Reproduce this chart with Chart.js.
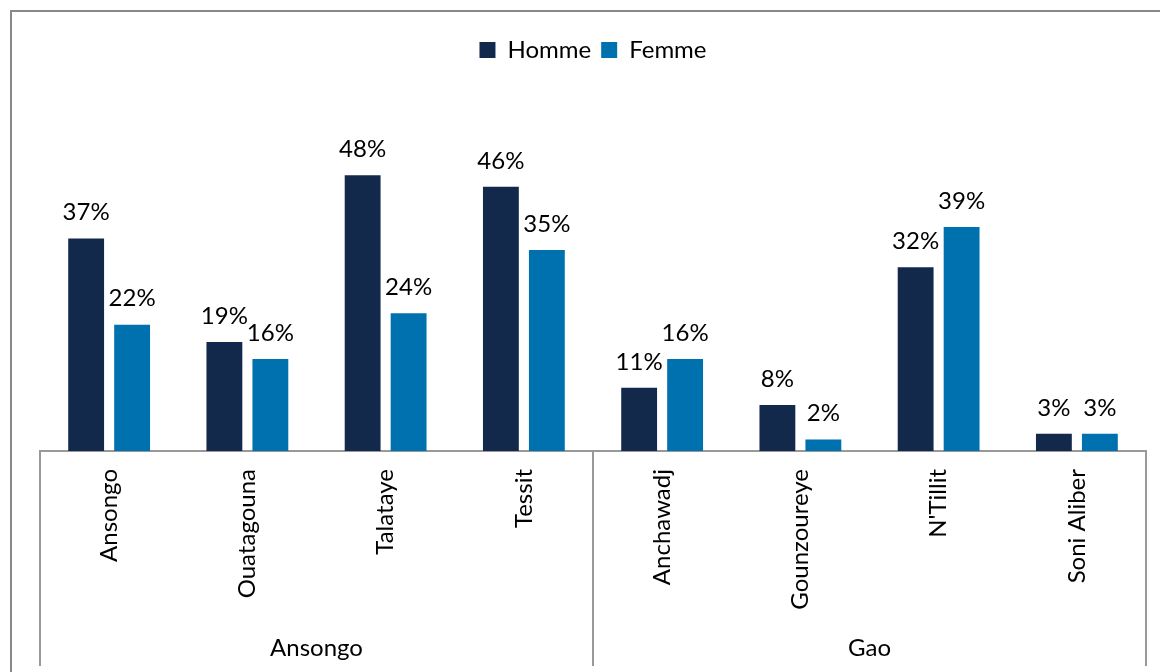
<!DOCTYPE html>
<html>
<head>
<meta charset="utf-8">
<script src="https://cdn.jsdelivr.net/npm/chart.js@4.4.0/dist/chart.umd.min.js"></script>
<style>
  html, body { margin: 0; padding: 0; background: #fff; }
  #wrap { width: 1160px; height: 672px; }
</style>
</head>
<body>
<div id="wrap"><canvas id="myChart" width="1160" height="672"></canvas></div>
<script>
const communes = ['Ansongo', 'Ouatagouna', 'Talataye', 'Tessit', 'Anchawadj', 'Gounzoureye', "N'Tillit", 'Soni Aliber'];
const cercles = ['Ansongo', 'Gao'];
const cercleSizes = [4, 4];
const homme = [37, 19, 48, 46, 11, 8, 32, 3];
const femme = [22, 16, 24, 35, 16, 2, 39, 3];

const FONT = 'Lato, "Open Sans", sans-serif';

// value labels above every bar
const valueLabels = {
  id: 'valueLabels',
  afterDatasetsDraw(chart) {
    const ctx = chart.ctx;
    ctx.save();
    ctx.font = '24px ' + FONT;
    ctx.fillStyle = '#000';
    ctx.textAlign = 'center';
    ctx.textBaseline = 'bottom';
    chart.data.datasets.forEach((ds, i) => {
      chart.getDatasetMeta(i).data.forEach((bar, j) => {
        ctx.fillText(ds.data[j] + '%', bar.x, bar.y - 14);
      });
    });
    ctx.restore();
  }
};

// outer frame + second level of the category axis
const frameAndGroups = {
  id: 'frameAndGroups',
  afterDraw(chart) {
    const ctx = chart.ctx;
    const area = chart.chartArea;
    const x = chart.scales.x;
    ctx.save();
    ctx.strokeStyle = '#888';
    ctx.lineWidth = 2;
    ctx.beginPath();
    ctx.moveTo(11, 672);
    ctx.lineTo(11, 11);
    ctx.lineTo(1160, 11);
    ctx.stroke();

    ctx.strokeStyle = '#999';
    ctx.lineWidth = 2;
    const bounds = [area.left];
    let idx = 0;
    cercleSizes.forEach((n, k) => {
      idx += n;
      if (k < cercleSizes.length - 1) {
        bounds.push((x.getPixelForValue(idx - 1) + x.getPixelForValue(idx)) / 2);
      }
    });
    bounds.push(area.right);
    bounds.forEach(b => {
      ctx.beginPath();
      ctx.moveTo(b, area.bottom);
      ctx.lineTo(b, 666);
      ctx.stroke();
    });
    ctx.font = '24px ' + FONT;
    ctx.fillStyle = '#000';
    ctx.textAlign = 'center';
    ctx.textBaseline = 'middle';
    cercles.forEach((c, k) => {
      ctx.fillText(c, (bounds[k] + bounds[k + 1]) / 2, 648);
    });
    ctx.restore();
  }
};

const config = {
  type: 'bar',
  data: {
    labels: communes,
    datasets: [
      { label: 'Homme', data: homme, backgroundColor: '#13294B' },
      { label: 'Femme', data: femme, backgroundColor: '#0071AF' }
    ]
  },
  options: {
    responsive: false,
    animation: false,
    categoryPercentage: 0.665,
    barPercentage: 0.78,
    layout: { padding: { left: 40, right: 14, top: 28, bottom: 0 } },
    plugins: {
      legend: {
        position: 'top',
        labels: {
          font: { size: 24, family: FONT },
          color: '#000',
          boxWidth: 16,
          boxHeight: 16,
          padding: 10
        }
      },
      tooltip: { enabled: false }
    },
    scales: {
      x: {
        grid: { display: false, drawTicks: false },
        border: { display: true, color: '#999', width: 2 },
        ticks: {
          color: '#000',
          font: { size: 24, family: FONT },
          maxRotation: 90,
          minRotation: 90,
          padding: 18
        },
        afterFit(scale) { scale.height = 221; }
      },
      y: {
        display: false,
        min: 0,
        max: 66
      }
    }
  },
  plugins: [valueLabels, frameAndGroups]
};

const myChart = new Chart(document.getElementById('myChart'), config);
</script>
</body>
</html>
